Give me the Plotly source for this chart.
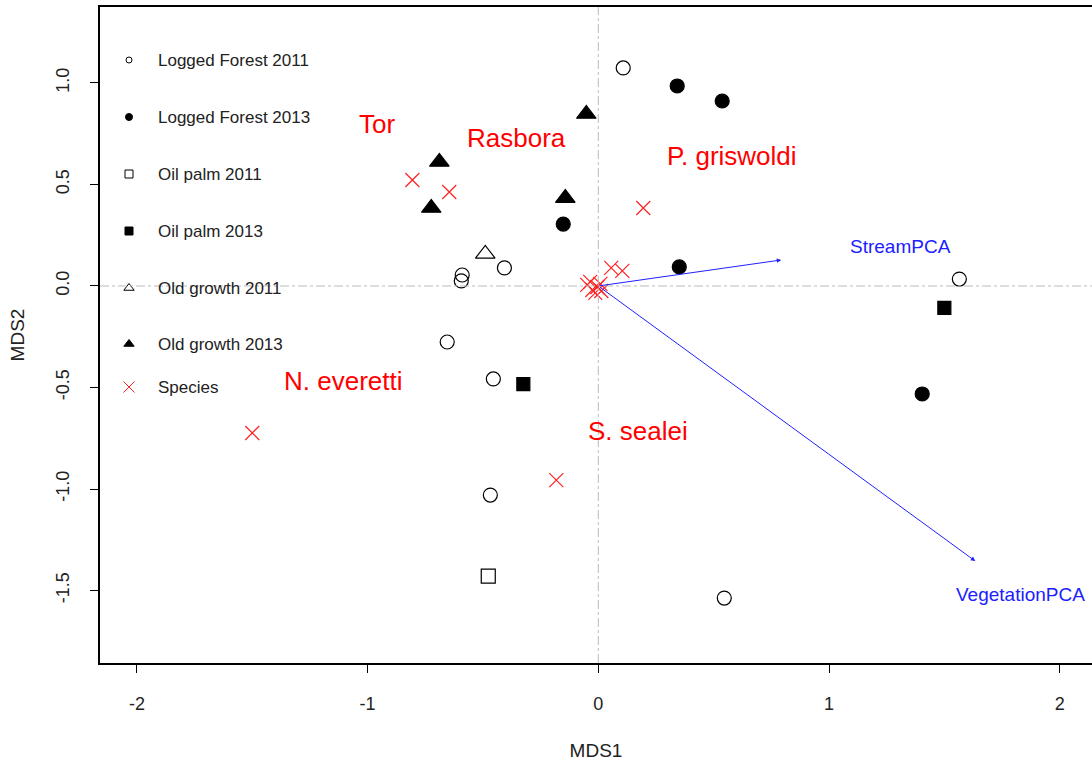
import plotly.graph_objects as go

# ---- data ----
lf2011_x = [0.108, -0.590, -0.594, -0.407, -0.655, -0.455, -0.468, 0.546, 1.565]
lf2011_y = [1.074, 0.054, 0.025, 0.089, -0.276, -0.458, -1.030, -1.537, 0.034]
lf2013_x = [0.342, 0.537, -0.152, 0.351, 1.404]
lf2013_y = [0.985, 0.911, 0.305, 0.094, -0.532]
op2011_x = [-0.477]
op2011_y = [-1.429]
op2013_x = [-0.325, 1.500]
op2013_y = [-0.483, -0.108]
og2011_x = [-0.490]
og2011_y = [0.158]
og2013_x = [-0.689, -0.724, -0.052, -0.143]
og2013_y = [0.611, 0.384, 0.847, 0.433]
sp_x = [-0.806, -0.646, 0.195, -1.500, -0.182, 0.056, 0.104,
        -0.048, -0.026, -0.004, 0.009, -0.013, 0.013, -0.035]
sp_y = [0.522, 0.463, 0.384, -0.724, -0.956, 0.089, 0.074,
        0.005, -0.020, -0.005, 0.010, -0.034, -0.025, 0.020]

vec_names = ["StreamPCA", "VegetationPCA"]
vec_x = [0.793, 1.634]
vec_y = [0.128, -1.355]
vec_lab_x = [1.309, 1.829]
vec_lab_y = [0.192, -1.522]

sp_names = ["Tor", "Rasbora", "P. griswoldi", "N. everetti", "S. sealei"]
sp_lab_x = [-0.958, -0.355, 0.581, -1.105, 0.173]
sp_lab_y = [0.798, 0.729, 0.640, -0.468, -0.714]

legend_labels = ["Logged Forest 2011", "Logged Forest 2013", "Oil palm 2011",
                 "Oil palm 2013", "Old growth 2011", "Old growth 2013", "Species"]

x_ticks = [-2, -1, 0, 1, 2]
x_ticktext = ["-2", "-1", "0", "1", "2"]
y_ticks = [-1.5, -1.0, -0.5, 0.0, 0.5, 1.0]
y_ticktext = ["-1.5", "-1.0", "-0.5", "0.0", "0.5", "1.0"]

FONT = "Liberation Sans, Arial, sans-serif"

fig = go.Figure()

def pts(x, y, symbol, size, filled, color="black", lw=1.2):
    fig.add_trace(go.Scatter(
        x=x, y=y, mode="markers", showlegend=False, hoverinfo="skip",
        marker=dict(symbol=symbol, size=size,
                    color=color if filled else "rgba(0,0,0,0)",
                    line=dict(color=color, width=lw))))

pts(lf2011_x, lf2011_y, "circle", 14, False)
pts(lf2013_x, lf2013_y, "circle", 14, True)
pts(op2011_x, op2011_y, "square", 14, False)
pts(op2013_x, op2013_y, "square", 13, True)
pts(og2011_x, og2011_y, "triangle-up", 17, False)
pts(og2013_x, og2013_y, "triangle-up", 17, True)
fig.add_trace(go.Scatter(
    x=sp_x, y=sp_y, mode="markers", showlegend=False, hoverinfo="skip",
    marker=dict(symbol="x-thin", size=14, color="#FF2020",
                line=dict(color="#FF2020", width=1.2))))

# origin lines
fig.add_hline(y=0, line=dict(color="#BBBBBB", width=1, dash="dashdot"))
fig.add_vline(x=0, line=dict(color="#BBBBBB", width=1, dash="dashdot"))

# vectors
for i in range(len(vec_names)):
    fig.add_annotation(x=vec_x[i], y=vec_y[i], ax=0, ay=0, axref="x", ayref="y",
                       xref="x", yref="y", showarrow=True, arrowhead=2,
                       arrowsize=0.9, arrowwidth=1, arrowcolor="#2020FF",
                       standoff=0, startstandoff=0, text="")
    fig.add_annotation(x=vec_lab_x[i], y=vec_lab_y[i], text=vec_names[i],
                       showarrow=False, font=dict(family=FONT, size=19, color="#2020FF"))

for i in range(len(sp_names)):
    fig.add_annotation(x=sp_lab_x[i], y=sp_lab_y[i], text=sp_names[i],
                       showarrow=False, font=dict(family=FONT, size=26, color="#FF0000"))

# manual legend on a pixel-like overlay axis
leg_y = [60, 117, 174, 231, 288, 344, 387]
leg_sym = ["circle-open", "circle", "square-open", "square", "triangle-up-open",
           "triangle-up", "x-thin"]
leg_size = [6, 7, 8, 8, 9, 9, 11]
leg_col = ["black"] * 6 + ["#FF2020"]
for i in range(len(legend_labels)):
    fig.add_trace(go.Scatter(
        x=[129], y=[leg_y[i]], xaxis="x2", yaxis="y2", mode="markers",
        showlegend=False, hoverinfo="skip",
        marker=dict(symbol=leg_sym[i], size=leg_size[i], color=leg_col[i],
                    line=dict(color=leg_col[i], width=1))))
    fig.add_annotation(x=156, y=leg_y[i], xref="x2", yref="y2", text=legend_labels[i],
                       showarrow=False, xanchor="left",
                       font=dict(family=FONT, size=17, color="#222222"))

fig.update_layout(
    width=1092, height=764,
    margin=dict(l=100, r=0, t=7, b=101),
    paper_bgcolor="white", plot_bgcolor="white",
    font=dict(family=FONT, color="#222222"),
    showlegend=False,
    xaxis=dict(range=[-2.16, 2.14], tickvals=x_ticks, ticktext=x_ticktext,
               ticks="outside", ticklen=8, automargin=False,
               tickcolor="black", showgrid=False, zeroline=False,
               showline=True, linecolor="black", linewidth=1.5, mirror=True,
               tickfont=dict(size=18, family=FONT, color="#222222"),
               ticklabelstandoff=16,
               title=dict(text="MDS1", font=dict(size=19, family=FONT), standoff=30)),
    yaxis=dict(range=[-1.857, 1.374], tickvals=y_ticks, ticktext=y_ticktext,
               ticks="outside", ticklen=8, tickangle=-90, automargin=False,
               tickcolor="black",
               showgrid=False, zeroline=False, showline=True, linecolor="black",
               linewidth=1.5, tickfont=dict(size=18, family=FONT, color="#222222"),
               ticklabelstandoff=14,
               title=dict(text="MDS2", font=dict(size=19, family=FONT), standoff=23)),
    xaxis2=dict(range=[100, 1092], overlaying="x", visible=False, fixedrange=True),
    yaxis2=dict(range=[663, 7], overlaying="y", visible=False, fixedrange=True),
)

fig.write_html("out.html", config={"displayModeBar": False},
               post_script="document.body.style.margin='0';")
